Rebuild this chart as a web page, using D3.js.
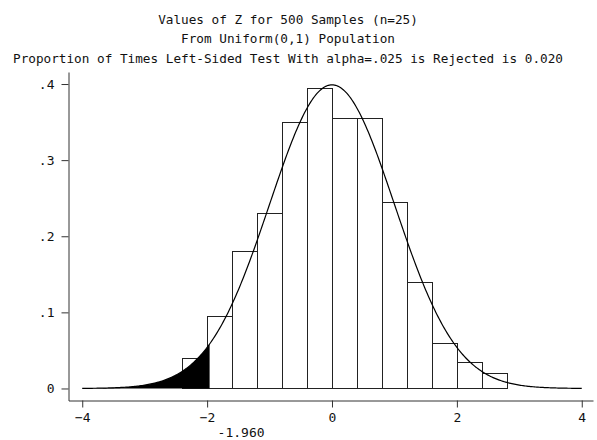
<!DOCTYPE html>
<html>
<head>
<meta charset="utf-8">
<script src="https://cdn.jsdelivr.net/npm/d3@7"></script>
<style>
  body { margin: 0; background: #fff; }
  svg text { font-family: "DejaVu Sans Mono", monospace; fill: #111; }
</style>
</head>
<body>
<div id="chart"></div>
<script>
// chart data
const titleLines = [
    "Values of Z for 500 Samples (n=25)",
    "From Uniform(0,1) Population",
    "Proportion of Times Left-Sided Test With alpha=.025 is Rejected is 0.020"
]
const binEdges = [-2.4, -2.0, -1.6, -1.2, -0.8, -0.4, 0, 0.4, 0.8, 1.2, 1.6, 2.0, 2.4, 2.8]
const binDensity = [0.04, 0.095, 0.18, 0.23, 0.35, 0.395, 0.355, 0.355, 0.245, 0.14, 0.06, 0.035, 0.02]
const xTicks = [-4, -2, 0, 2, 4]
const yTicks = [0, 0.1, 0.2, 0.3, 0.4]
const critValue = -1.96
const critLabel = "-1.960"
const curveFrom = -4, curveTo = 4
const normMean = 0, normSd = 1

const width = 597, height = 440

const svg = d3.select("#chart").append("svg")
    .attr("width", width)
    .attr("height", height)

const x = d3.scaleLinear().domain([-4.22, 4.18]).range([68.5, 593])
const y = d3.scaleLinear().domain([-0.0158, 0.4158]).range([400.5, 72])

// titles
svg.append("g").selectAll("text")
    .data(titleLines)
    .join("text")
    .attr("x", 288)
    .attr("y", (d, i) => 23.5 + i * 19.8)
    .attr("text-anchor", "middle")
    .style("font-size", "12.7px")
    .text(d => d)

// histogram bars (unfilled)
const bars = binDensity.map((v, i) => ({x0: binEdges[i], x1: binEdges[i + 1], v: v}))
svg.append("g")
    .selectAll("rect")
    .data(bars)
    .join("rect")
    .attr("x", d => Math.round(x(d.x0)) + 0.5)
    .attr("width", d => Math.round(x(d.x1)) - Math.round(x(d.x0)))
    .attr("y", d => Math.round(y(d.v)) + 0.5)
    .attr("height", d => Math.round(y(0)) - Math.round(y(d.v)))
    .attr("fill", "none")
    .attr("stroke", "#222")
    .attr("stroke-width", 1)

// normal density overlay
const pdf = z => Math.exp(-0.5 * ((z - normMean) / normSd) ** 2) / (normSd * Math.sqrt(2 * Math.PI))
const pts = d3.range(curveFrom, curveTo + 0.0001, 0.02).map(z => [z, pdf(z)])

// shaded rejection region under the curve
const tail = pts.filter(p => p[0] <= critValue)
tail.push([critValue, pdf(critValue)])
svg.append("path")
    .datum(tail)
    .attr("fill", "#000")
    .attr("d", d3.area().x(d => x(d[0])).y0(y(0)).y1(d => y(d[1])))

svg.append("path")
    .datum(pts)
    .attr("fill", "none")
    .attr("stroke", "#000")
    .attr("stroke-width", 1.2)
    .attr("d", d3.line().x(d => x(d[0])).y(d => y(d[1])))

// axes
const yFmt = d => d === 0 ? "0" : d3.format(".1f")(d).replace("0.", ".")
svg.append("g")
    .attr("transform", "translate(68.5,0)")
    .call(d3.axisLeft(y).tickValues(yTicks).tickFormat(yFmt).tickSize(7).tickSizeOuter(0).tickPadding(7))
svg.append("g")
    .attr("transform", "translate(0,400.5)")
    .call(d3.axisBottom(x).tickValues(xTicks).tickFormat(d3.format("d")).tickSize(7).tickSizeOuter(0).tickPadding(5))

svg.selectAll(".tick text").style("font-size", "13px").style("font-family", "'DejaVu Sans Mono', monospace")
svg.selectAll(".domain, .tick line").attr("stroke", "#333")

// critical value label
svg.append("text")
    .attr("x", x(critValue) + 8)
    .attr("y", 437)
    .style("font-size", "13px")
    .text(critLabel)
</script>
</body>
</html>
